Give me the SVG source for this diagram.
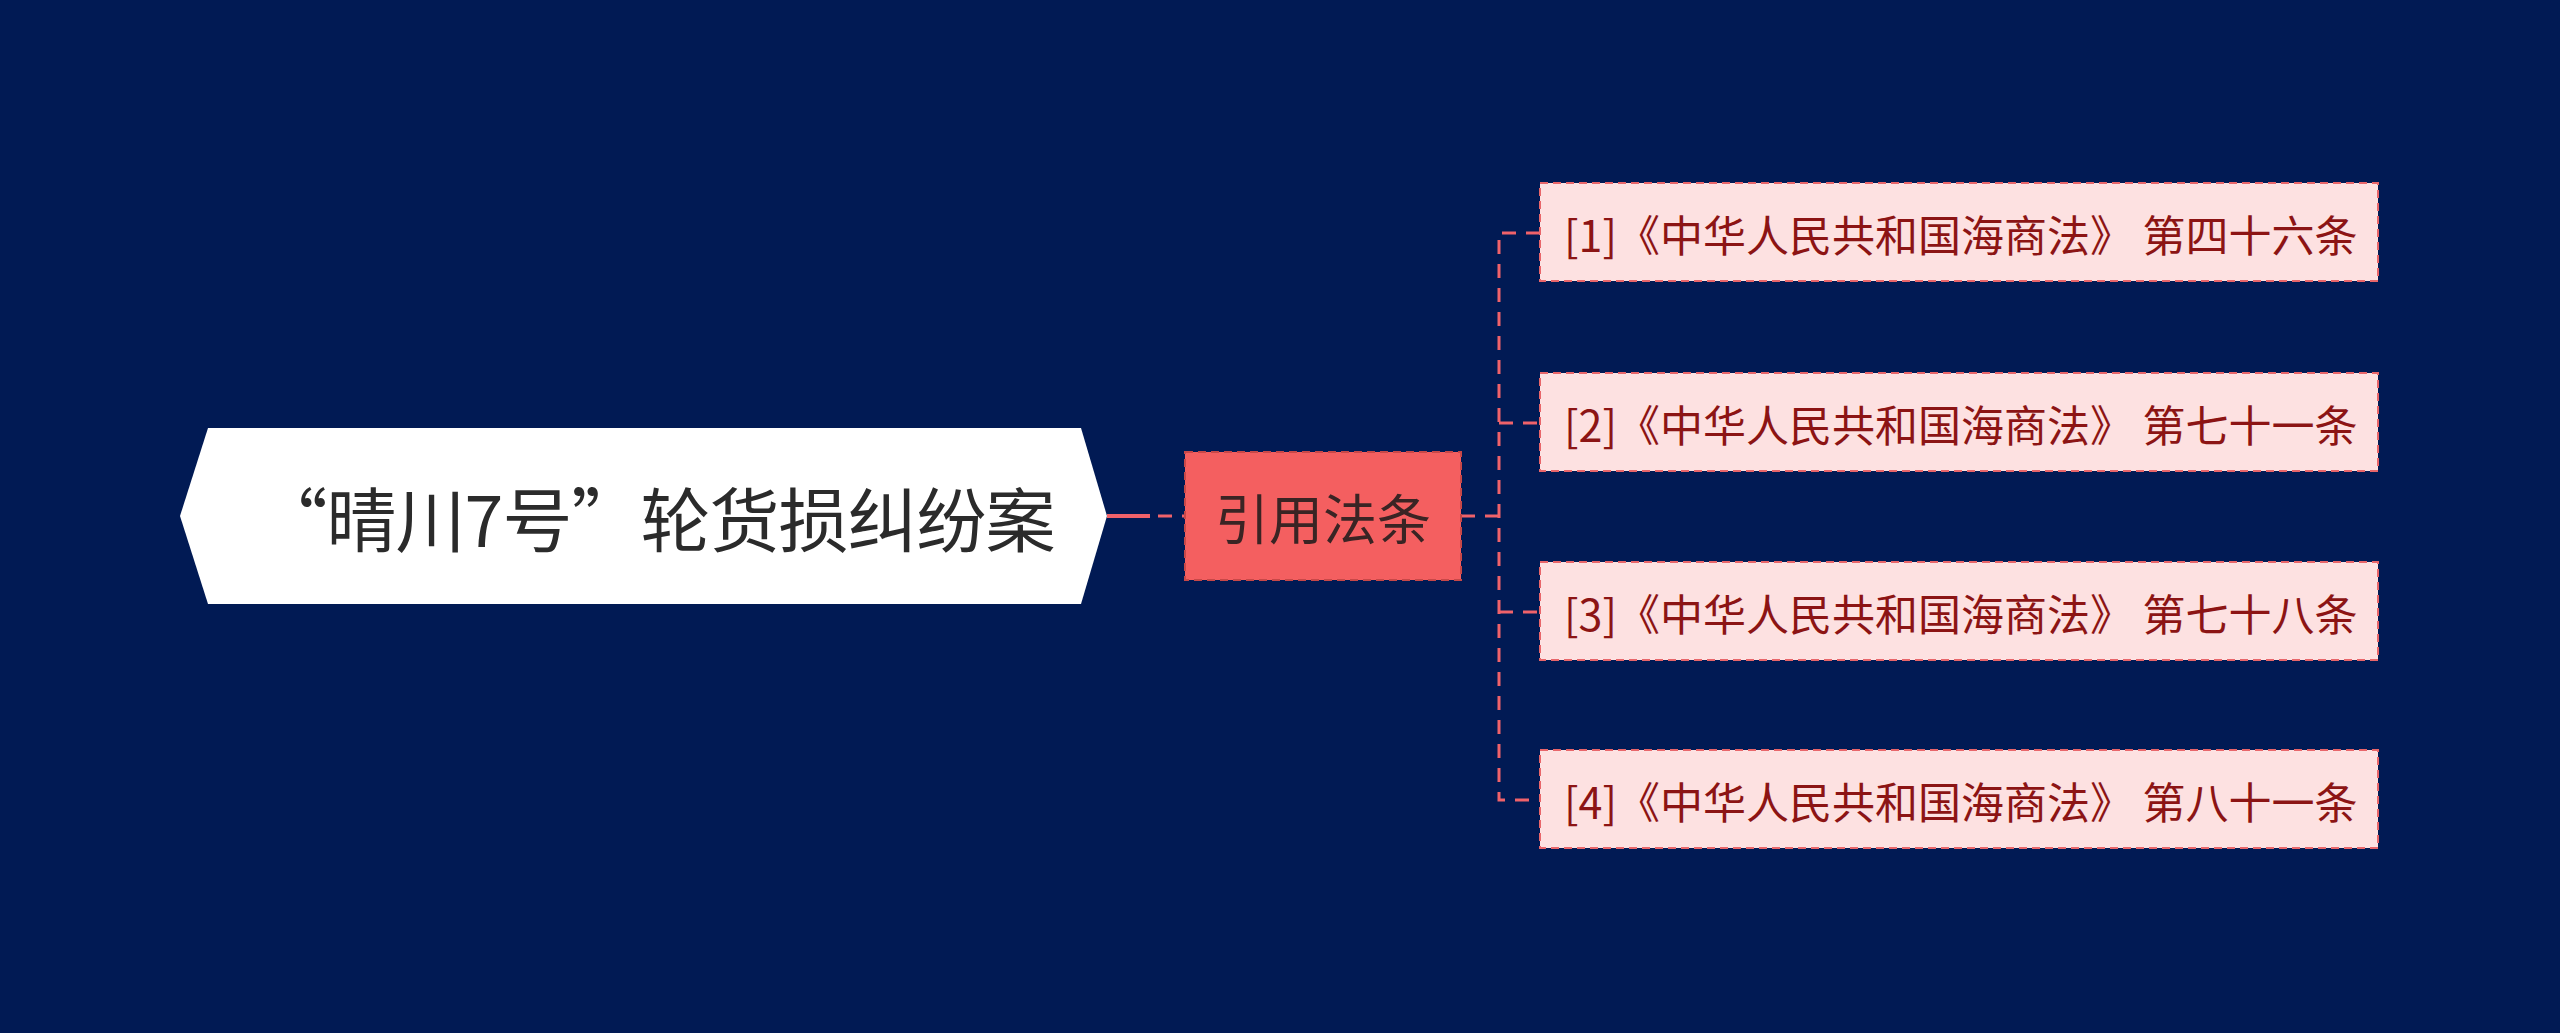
<svg xmlns="http://www.w3.org/2000/svg" width="2560" height="1033" viewBox="0 0 2560 1033">
<style>
.leaf rect{fill:#fde1e1;stroke:#e8666a;stroke-width:2;stroke-dasharray:8 5}
.leaf text{fill:#8c1414;font-family:"Noto Sans CJK SC","Noto Sans",sans-serif;font-size:43px;dominant-baseline:central}
.conn{fill:none;stroke:#f0626a;stroke-width:3;stroke-dasharray:14 10}
</style>
<rect width="2560" height="1033" fill="#011a54"/>
<g id="connectors">
<path d="M1107 516 H1150" stroke="#f0626a" stroke-width="4" fill="none"/>
<path class="conn" d="M1158 516 H1185"/>
<path class="conn" d="M1461 516 H1499"/>
<path class="conn" d="M1540 233 H1499 V800 H1540"/>
<path class="conn" d="M1499 423 H1540 M1499 612 H1540"/>
</g>
<g id="root">
<polygon points="208,428 1081,428 1107,516 1081,604 208,604 180,516" fill="#ffffff"/>
<text x="656" y="516" text-anchor="middle" dominant-baseline="central" font-family="Noto Sans CJK SC,Noto Sans,sans-serif" font-size="70" fill="#2b2b2b" letter-spacing="-1">“晴川7号”轮货损纠纷案</text>
</g>
<g id="hub">
<rect x="1185" y="452" width="276" height="128" fill="#f45f60" stroke="#c84848" stroke-width="2" stroke-dasharray="8 5"/>
<text x="1323" y="516" text-anchor="middle" dominant-baseline="central" font-family="Noto Sans CJK SC,Noto Sans,sans-serif" font-size="54" fill="#3a2424">引用法条</text>
</g>
<g id="leaf1" class="leaf"><rect x="1540" y="183" width="838" height="98"/><text x="1564" y="233">[1]《中华人民共和国海商法》 第四十六条</text></g>
<g id="leaf2" class="leaf"><rect x="1540" y="373" width="838" height="98"/><text x="1564" y="423">[2]《中华人民共和国海商法》 第七十一条</text></g>
<g id="leaf3" class="leaf"><rect x="1540" y="562" width="838" height="98"/><text x="1564" y="612">[3]《中华人民共和国海商法》 第七十八条</text></g>
<g id="leaf4" class="leaf"><rect x="1540" y="750" width="838" height="98"/><text x="1564" y="800">[4]《中华人民共和国海商法》 第八十一条</text></g>
</svg>
